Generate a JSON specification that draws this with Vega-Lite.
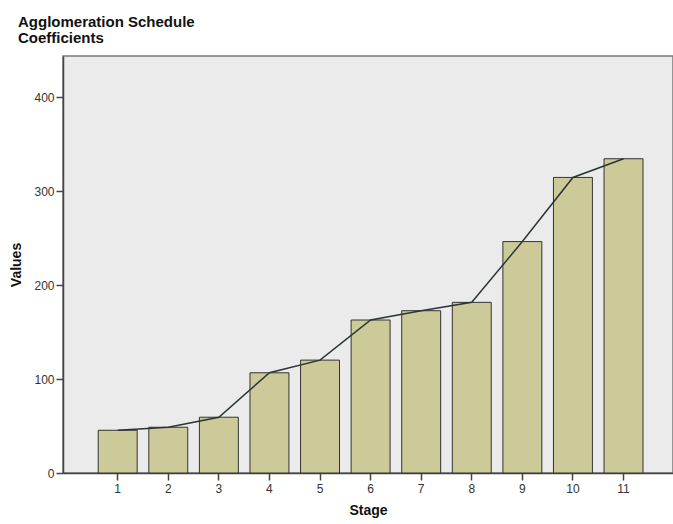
{
  "$schema": "https://vega.github.io/schema/vega-lite/v6.json",
  "width": 610,
  "height": 417,
  "autosize": "none",
  "padding": {"left": 63, "top": 56, "right": 0, "bottom": 51},
  "background": "white",
  "title": {
    "text": ["Agglomeration Schedule", "Coefficients"],
    "anchor": "start",
    "frame": "group",
    "dx": -45,
    "offset": -2,
    "baseline": "alphabetic",
    "font": "Liberation Sans",
    "fontSize": 15,
    "fontWeight": "bold",
    "lineHeight": 16,
    "color": "#111111"
  },
  "config": {
    "view": {"fill": "#ebebeb", "stroke": "#7a7a7a", "strokeWidth": 1.5},
    "axis": {
      "labelFont": "Liberation Sans",
      "labelFontSize": 12,
      "labelColor": "#333333",
      "tickColor": "#444444",
      "domainColor": "#444444",
      "domainWidth": 1.5,
      "tickWidth": 1.5,
      "tickSize": 7,
      "labelPadding": 2,
      "titleFont": "Liberation Sans",
      "titleFontSize": 14,
      "titleFontWeight": "bold",
      "titleColor": "#111111",
      "grid": false
    }
  },
  "data": {
    "values": [
      {"stage": 1, "value": 45.5},
      {"stage": 2, "value": 48.7},
      {"stage": 3, "value": 59.4},
      {"stage": 4, "value": 106.7},
      {"stage": 5, "value": 120.2},
      {"stage": 6, "value": 162.9},
      {"stage": 7, "value": 172.8},
      {"stage": 8, "value": 181.7},
      {"stage": 9, "value": 246.4},
      {"stage": 10, "value": 314.7},
      {"stage": 11, "value": 334.6}
    ]
  },
  "encoding": {
    "x": {
      "field": "stage",
      "type": "ordinal",
      "scale": {"paddingInner": 0.23, "paddingOuter": 0.645, "align": 0.54},
      "axis": {"title": "Stage", "labelAngle": 0, "labelPadding": 3, "titlePadding": 9}
    },
    "y": {
      "field": "value",
      "type": "quantitative",
      "scale": {"domain": [0, 444], "nice": false},
      "axis": {"title": "Values", "values": [0, 100, 200, 300, 400], "titlePadding": 10}
    }
  },
  "layer": [
    {"mark": {"type": "bar", "fill": "#cdca9a", "stroke": "#333333", "strokeWidth": 1}},
    {"mark": {"type": "line", "color": "#2a3535", "strokeWidth": 1.5}}
  ]
}
